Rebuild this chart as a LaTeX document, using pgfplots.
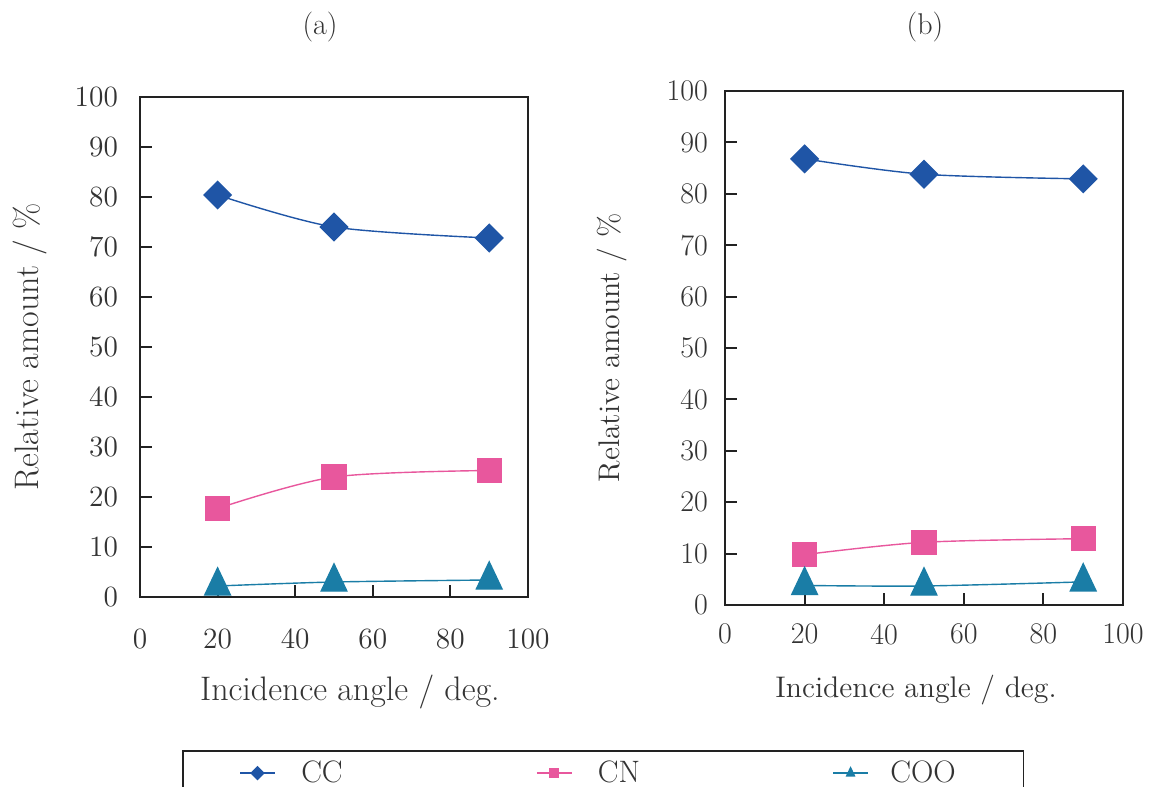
\documentclass[border=0pt]{standalone}
\usepackage{pgfplots}
\pgfplotsset{compat=1.18}
\definecolor{ccblue}{HTML}{1F55A6}
\definecolor{cnpink}{HTML}{E8579D}
\definecolor{cooteal}{HTML}{1A7DA6}
\definecolor{txt}{HTML}{333333}
\definecolor{axc}{HTML}{222222}
\pgfplotsset{
 panel/.style={
  scale only axis, clip=false,
  xmin=0,xmax=100,ymin=0,ymax=100,
  xtick={0,20,...,100}, ytick={0,10,...,100},
  tick pos=left, tick align=inside, major tick length=6pt,
  axis line style={axc, line width=1.4pt},
  every tick/.style={axc, line width=1pt},
  /pgf/number format/assume math mode=true,
  tick label style={text=txt},
  label style={text=txt},
  title style={text=txt},
 },
 cc/.style={ccblue, line width=0.7pt, smooth, mark=square*, mark size=4.8pt, mark options={rotate=45, fill=ccblue, draw=ccblue}},
 cn/.style={cnpink, line width=0.7pt, smooth, mark=square*, mark size=6pt, mark options={fill=cnpink, draw=cnpink}},
 coo/.style={cooteal, line width=0.7pt, smooth, mark=triangle*, mark size=7.4pt, mark options={yscale=1.22, fill=cooteal, draw=cooteal}},
}
\pgfplotstableread{
x cc cn coo
20 80.4 17.7 2.2
50 74.0 24.0 3.0
90 71.8 25.3 3.4
}\tablea
\pgfplotstableread{
x cc cn coo
20 86.8 9.8 3.8
50 83.8 12.2 3.7
90 82.9 12.9 4.5
}\tableb
\begin{document}
\begin{tikzpicture}
\useasboundingbox (0,0) rectangle (574.5pt,393pt);
\begin{axis}[panel, at={(70pt,94.5pt)}, anchor=south west, width=194pt, height=250pt,
 tick label style={font=\fontsize{14.7}{17}\selectfont},
 yticklabel style={xshift=-7.5pt}, xticklabel style={yshift=-12.5pt},
 xlabel={Incidence angle / deg.}, ylabel={Relative amount / \%},
 xlabel style={font=\fontsize{17}{20}\selectfont, at={(axis description cs:0.541,-0.19)}, anchor=center},
 ylabel style={font=\fontsize{17}{20}\selectfont, at={(axis description cs:-0.284,0.5)}, anchor=center},
 title={(a)}, title style={font=\fontsize{15}{18}\selectfont, at={(axis description cs:0.464,1.116)}, anchor=center, yshift=0pt},
 legend columns=3,
 legend style={at={(axis description cs:0.108,-0.306)}, anchor=north west, draw=axc, line width=0.8pt,
   inner xsep=28.5pt, inner ysep=3pt, font=\fontsize{15.5}{18}\selectfont, text=txt,
   /tikz/every even column/.style={column sep=0pt}, nodes={inner xsep=0pt}},
 legend cell align=left,
 legend image post style={mark size=2.2pt},
]
\addplot[cc] table[x=x,y=cc]{\tablea};
\addlegendentry{\makebox[130.5pt][l]{\hspace{13pt}CC}}
\addplot[cn] table[x=x,y=cn]{\tablea};
\addlegendentry{\makebox[130.5pt][l]{\hspace{13pt}CN}}
\addplot[coo] table[x=x,y=coo]{\tablea};
\addlegendentry{\makebox[49pt][l]{\hspace{11pt}COO}}
\end{axis}
\begin{axis}[panel, at={(362.5pt,90.5pt)}, anchor=south west, width=199pt, height=257pt,
 tick label style={font=\fontsize{15}{17}\selectfont},
 yticklabel style={xshift=-5pt}, xticklabel style={yshift=-6pt},
 xlabel={Incidence angle / deg.}, ylabel={Relative amount / \%},
 xlabel style={font=\fontsize{14.9}{18}\selectfont, at={(axis description cs:0.48,-0.165)}, anchor=center},
 ylabel style={font=\fontsize{14.9}{18}\selectfont, at={(axis description cs:-0.284,0.5)}, anchor=center},
 title={(b)}, title style={font=\fontsize{15}{18}\selectfont, at={(axis description cs:0.5025,1.101)}, anchor=center, yshift=0pt},
]
\addplot[cc] table[x=x,y=cc]{\tableb};
\addplot[cn] table[x=x,y=cn]{\tableb};
\addplot[coo] table[x=x,y=coo]{\tableb};
\end{axis}
\end{tikzpicture}
\end{document}
